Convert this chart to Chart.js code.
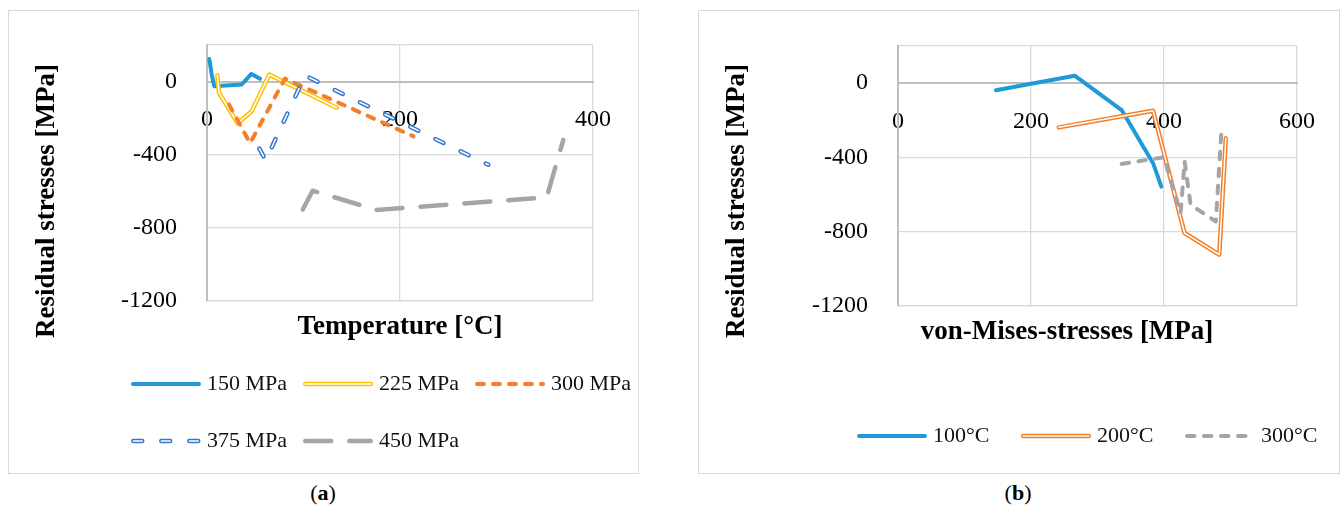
<!DOCTYPE html>
<html>
<head>
<meta charset="utf-8">
<script src="https://cdn.jsdelivr.net/npm/chart.js@4.4.1/dist/chart.umd.min.js"></script>
<style>
  html, body { margin: 0; padding: 0; background: #fff; }
  body { width: 1343px; height: 513px; position: relative; overflow: hidden; font-family: 'Liberation Serif', serif; }
  .box { position: absolute; top: 10px; height: 462px; border: 1px solid #d9d9d9; }
  #boxA { left: 8px; width: 629px; }
  #boxB { left: 698px; width: 640px; }
  .box canvas { display: block; }
  .cap { position: absolute; top: 480px; width: 100px; font-size: 22px; line-height: 26px; text-align: center; color: #000; }
</style>
</head>
<body>
<div class="box" id="boxA"><canvas id="chartA" width="629" height="462"></canvas></div>
<div class="box" id="boxB"><canvas id="chartB" width="640" height="462"></canvas></div>
<div class="cap" style="left:273px">(<b>a</b>)</div>
<div class="cap" style="left:968px">(<b>b</b>)</div>
<script>
const FONT = "'Liberation Serif', serif";

// (a) residual stresses over temperature, one series per load level
const temp150 = [2.4, 5, 7.5, 36, 46, 55];
const res150 = [123, 35, -25, -16, 42, 15];
const temp225 = [10.7, 12.4, 31.8, 46.3, 64.6, 134.4];
const res225 = [34, -61, -228, -162, 38, -143];
const temp300 = [22.8, 44.6, 80.8, 214];
const res300 = [-125, -337, 16, -300];
const temp375 = [54.2, 60.8, 101.6, 291.5];
const res375 = [-366, -431, 33, -455];
const temp450 = [99.2, 109.5, 175.8, 352, 369.2];
const res450 = [-700, -597, -702, -633, -319];

// (b) residual stresses over von Mises stress, one series per temperature
const vm100 = [147.3, 265.7, 336.3, 383.6, 396];
const rs100 = [-38, 40, -145, -431, -557];
const vm200 = [241.8, 383.6, 430.9, 483.1, 493];
const rs200 = [-238, -149, -807, -923, -297];
const vm300 = [336.3, 400, 425, 431, 440, 478, 486.6];
const rs300 = [-435, -399, -699, -422, -655, -745, -243];

const yTicks = [-1200, -800, -400, 0, 200];
const xTicksA = [0, 200, 400];
const xTicksB = [0, 200, 400, 600];

function toPoints(xs, ys) {
    return xs.map(function (x, i) { return {x: x, y: ys[i]}; });
}

// Excel style series; a double line is drawn as a thick coloured line with a thin white one on top
function buildDatasets(series) {
    let datasets = [];
    const n = series.length;
    series.forEach(function (s, i) {
        const pts = toPoints(s.xs, s.ys);
        datasets.push({
            label: s.label,
            data: pts,
            showLine: true,
            pointRadius: 0,
            pointHoverRadius: 0,
            borderColor: s.color,
            backgroundColor: s.color,
            borderWidth: s.width,
            borderDash: s.dash || [],
            borderCapStyle: 'round',
            borderJoinStyle: 'round',
            order: (n - i) * 2
        });
        if (s.inner) {
            datasets.push({
                label: s.label,
                inner: true,
                data: pts,
                showLine: true,
                pointRadius: 0,
                pointHoverRadius: 0,
                borderColor: '#ffffff',
                borderWidth: s.inner,
                borderDash: s.dash || [],
                borderCapStyle: 'round',
                borderJoinStyle: 'round',
                order: (n - i) * 2 - 1
            });
        }
    });
    return datasets;
}

function strokeSample(ctx, ds, x, y, len, r) {
    ctx.save();
    ctx.strokeStyle = ds.borderColor;
    ctx.lineWidth = ds.borderWidth;
    ctx.lineCap = 'round';
    ctx.setLineDash(ds.borderDash);
    ctx.beginPath();
    ctx.moveTo(x + r, y);
    ctx.lineTo(x + len - r, y);
    ctx.stroke();
    ctx.restore();
}

// legend laid out in fixed columns like the spreadsheet one
const excelLegend = {
    id: 'excelLegend',
    afterDraw(chart, args, opts) {
        const ctx = chart.ctx;
        const all = chart.data.datasets;
        const items = all.filter(function (d) { return !d.inner; });
        ctx.save();
        ctx.font = opts.fontSize + 'px ' + FONT;
        ctx.textBaseline = 'middle';
        ctx.textAlign = 'left';
        ctx.fillStyle = '#111';
        items.forEach(function (ds, i) {
            const x = opts.left + (i % opts.cols) * opts.colWidth;
            const y = opts.top + Math.floor(i / opts.cols) * opts.rowHeight;
            const r = ds.borderWidth / 2;
            strokeSample(ctx, ds, x, y, opts.lineLength, r);
            const inner = all.find(function (d) { return d.inner && d.label === ds.label; });
            if (inner) {
                strokeSample(ctx, inner, x, y, opts.lineLength, r);
            }
            ctx.fillText(ds.label, x + opts.lineLength + opts.textGap, y);
        });
        ctx.restore();
    }
};

const axisTitles = {
    id: 'axisTitles',
    afterDraw(chart, args, opts) {
        const ctx = chart.ctx;
        ctx.save();
        ctx.font = 'bold ' + opts.fontSize + 'px ' + FONT;
        ctx.fillStyle = '#000';
        ctx.textAlign = 'center';
        ctx.textBaseline = 'middle';
        ctx.fillText(opts.xText, opts.xAt[0], opts.xAt[1]);
        ctx.translate(opts.yAt[0], opts.yAt[1]);
        ctx.rotate(-Math.PI / 2);
        ctx.fillText(opts.yText, 0, 0);
        ctx.restore();
    }
};

function gridColor(c) {
    return c.tick && c.tick.value === 0 ? '#bfbfbf' : '#d9d9d9';
}
function gridWidth(c) {
    return c.tick && c.tick.value === 0 ? 2 : 1.3;
}

function makeOptions(cfg) {
    return {
        responsive: false,
        animation: false,
        devicePixelRatio: 1,
        events: [],
        layout: { padding: { top: cfg.top, right: cfg.right, bottom: 0, left: 0 } },
        plugins: {
            legend: { display: false },
            tooltip: { enabled: false },
            excelLegend: cfg.legend,
            axisTitles: cfg.titles
        },
        scales: {
            x: {
                type: 'linear',
                position: 'bottom',
                min: 0,
                max: cfg.xMax,
                afterBuildTicks: function (s) { s.ticks = cfg.xTicks.map(function (v) { return {value: v}; }); },
                ticks: { display: false },
                grid: { color: gridColor, lineWidth: gridWidth, drawTicks: false },
                border: { display: true, color: '#d9d9d9', width: 1.3 },
                afterFit: function (s) { s.height = cfg.xHeight; }
            },
            xZero: {
                type: 'linear',
                axis: 'x',
                position: { y: 0 },
                min: 0,
                max: cfg.xMax,
                afterBuildTicks: function (s) { s.ticks = cfg.xTicks.map(function (v) { return {value: v}; }); },
                ticks: {
                    padding: 24,
                    maxRotation: 0,
                    color: '#000',
                    font: { family: FONT, size: 24 },
                    callback: function (v) { return String(v); }
                },
                grid: { display: false, drawTicks: false },
                border: { display: true, color: '#bfbfbf', width: 2 }
            },
            y: {
                type: 'linear',
                min: -1200,
                max: 200,
                afterBuildTicks: function (s) { s.ticks = yTicks.map(function (v) { return {value: v}; }); },
                ticks: {
                    padding: 0,
                    color: '#000',
                    font: { family: FONT, size: 24 },
                    callback: function (v) { return v === 200 ? '' : String(v); }
                },
                // invisible tick marks keep the labels away from the axis
                grid: { color: gridColor, lineWidth: gridWidth, drawTicks: true, tickLength: 30, tickColor: 'rgba(0,0,0,0)' },
                border: { display: true, color: '#bfbfbf', width: 2 },
                afterFit: function (s) { s.width = cfg.yWidth; }
            }
        }
    };
}

const seriesA = [
    { label: '150 MPa', xs: temp150, ys: res150, color: '#1f9ad8', width: 4 },
    { label: '225 MPa', xs: temp225, ys: res225, color: '#ffc000', width: 4.5, inner: 1.5 },
    { label: '300 MPa', xs: temp300, ys: res300, color: '#f47f2a', width: 4, dash: [7, 9] },
    { label: '375 MPa', xs: temp375, ys: res375, color: '#3579cf', width: 4.5, inner: 1.5, dash: [9, 19] },
    { label: '450 MPa', xs: temp450, ys: res450, color: '#a5a5a5', width: 4.5, dash: [26, 18] }
];

const seriesB = [
    { label: '100°C', xs: vm100, ys: rs100, color: '#1f9ad8', width: 4 },
    { label: '200°C', xs: vm200, ys: rs200, color: '#f47f2a', width: 4.5, inner: 1.5 },
    { label: '300°C', xs: vm300, ys: rs300, color: '#a5a5a5', width: 4, dash: [7.5, 9.5] }
];

new Chart('chartA', {
    type: 'scatter',
    data: { datasets: buildDatasets(seriesA) },
    options: makeOptions({
        top: 34, right: 45, xHeight: 172, yWidth: 198, xMax: 400, xTicks: xTicksA,
        legend: { left: 122, top: 373, cols: 3, colWidth: 172, rowHeight: 57, lineLength: 70, textGap: 6, fontSize: 22 },
        titles: { fontSize: 27, xText: 'Temperature [°C]', xAt: [391, 316], yText: 'Residual stresses [MPa]', yAt: [38, 190] }
    }),
    plugins: [excelLegend, axisTitles]
});

new Chart('chartB', {
    type: 'scatter',
    data: { datasets: buildDatasets(seriesB) },
    options: makeOptions({
        top: 35, right: 39, xHeight: 167, yWidth: 199, xMax: 600, xTicks: xTicksB,
        legend: { left: 158, top: 425, cols: 3, colWidth: 164, rowHeight: 57, lineLength: 70, textGap: 6, fontSize: 22 },
        titles: { fontSize: 27, xText: 'von-Mises-stresses [MPa]', xAt: [368, 321], yText: 'Residual stresses [MPa]', yAt: [38, 190] }
    }),
    plugins: [excelLegend, axisTitles]
});
</script>
</body>
</html>
